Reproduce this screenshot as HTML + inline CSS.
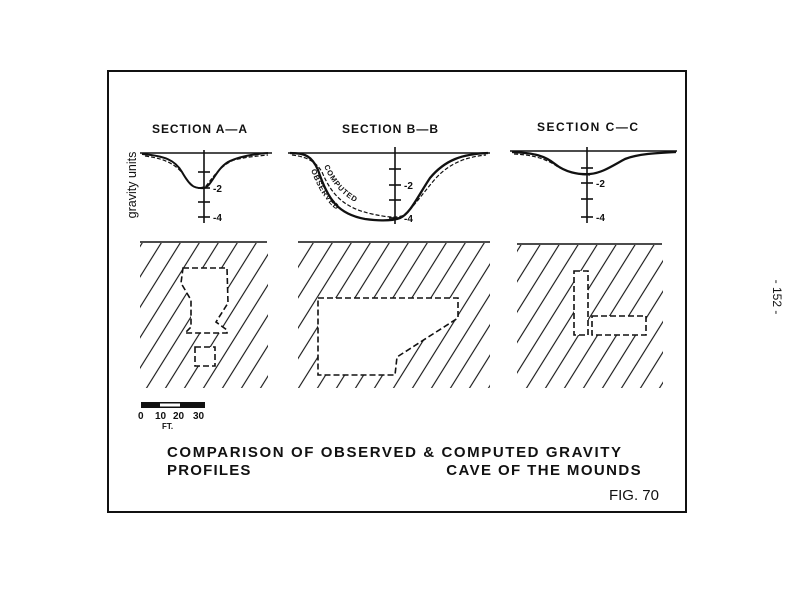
<!DOCTYPE html>
<html><head><meta charset="utf-8"><style>
html,body{margin:0;padding:0;background:#fff;}
svg{display:block;}
text{font-family:"Liberation Sans",sans-serif;font-weight:bold;fill:#111;}
</style></head><body>
<svg width="805" height="600" viewBox="0 0 805 600" xmlns="http://www.w3.org/2000/svg">
<defs>
<pattern id="h" patternUnits="userSpaceOnUse" width="19" height="40" patternTransform="skewX(-32)">
<line x1="9" y1="0" x2="9" y2="40" stroke="#111" stroke-width="1.3"/>
</pattern>
<clipPath id="ca"><rect x="140" y="243" width="128" height="145"/></clipPath>
<clipPath id="cb"><rect x="298" y="243" width="192" height="145"/></clipPath>
<clipPath id="cc"><rect x="517" y="245" width="146" height="143"/></clipPath>
<path id="pc" d="M324,166 C334,190 350,203 380,213"/>
<path id="po" d="M311,170 C321,198 335,214 362,225"/>
</defs>
<rect x="108" y="71" width="578" height="441" fill="none" stroke="#111" stroke-width="2"/>
<text x="152" y="133" font-size="12" textLength="96" letter-spacing="1">SECTION A—A</text>
<text x="342" y="133" font-size="12" textLength="97" letter-spacing="1">SECTION B—B</text>
<text x="537" y="131" font-size="12" textLength="102" letter-spacing="1">SECTION C—C</text>
<text transform="translate(136,185) rotate(-90)" text-anchor="middle" font-size="12.5" style="font-weight:normal">gravity units</text>
<text transform="translate(773,297) rotate(90)" text-anchor="middle" font-size="12" style="font-weight:normal">- 152 -</text>
<g stroke="#111" fill="none" stroke-width="1.6">
<line x1="140" y1="153" x2="272" y2="153"/>
<line x1="204" y1="150" x2="204" y2="223"/>
<line x1="198" y1="172" x2="210" y2="172"/><line x1="198" y1="188" x2="210" y2="188"/>
<line x1="198" y1="202" x2="210" y2="202"/><line x1="198" y1="217" x2="210" y2="217"/>
<path d="M142,154 C165,156 175,160 182,172 C190,186 194,189 204,188 C212,186 215,170 228,162 C240,156 255,154 268,153" stroke-width="2"/>
<path d="M145,156 C168,159 178,166 186,178 C192,187 198,190 206,186 C214,176 220,166 234,160 C246,157 258,156 268,155" stroke-dasharray="4,2" stroke-width="1.2"/>
<line x1="288" y1="153" x2="490" y2="153"/>
<line x1="395" y1="147" x2="395" y2="224"/>
<line x1="389" y1="169" x2="401" y2="169"/><line x1="389" y1="185" x2="401" y2="185"/>
<line x1="389" y1="200" x2="401" y2="200"/><line x1="389" y1="218" x2="401" y2="218"/>
<path d="M290,153 C305,153 312,156 318,170 C328,200 338,214 365,219 C380,221 392,221 400,218 C410,214 418,196 430,178 C445,160 462,154 488,153" stroke-width="2.3"/>
<path d="M292,155 C308,157 316,162 322,172 C332,196 345,208 372,214 C386,217 394,218 402,216 C412,210 422,194 436,178 C450,163 466,157 486,155" stroke-dasharray="4,2" stroke-width="1.2"/>
<line x1="510" y1="151" x2="677" y2="151"/>
<line x1="587" y1="147" x2="587" y2="223"/>
<line x1="581" y1="168" x2="593" y2="168"/><line x1="581" y1="183" x2="593" y2="183"/>
<line x1="581" y1="199" x2="593" y2="199"/><line x1="581" y1="217" x2="593" y2="217"/>
<path d="M512,152 C535,153 545,156 555,164 C565,172 578,175 590,174 C602,173 612,166 625,159 C638,154 655,153 676,152" stroke-width="2.3"/>
<path d="M514,154 C536,155 548,160 558,167 C570,173 580,175 590,175" stroke-dasharray="4,2" stroke-width="1.2"/>
<line x1="140" y1="242" x2="267" y2="242"/>
<line x1="298" y1="242" x2="490" y2="242"/>
<line x1="517" y1="244" x2="662" y2="244"/>
</g>
<text font-size="7.5" letter-spacing="0.8"><textPath href="#pc">COMPUTED</textPath></text>
<text font-size="7.5" letter-spacing="0.8"><textPath href="#po">OBSERVED</textPath></text>
<g font-size="10">
<text x="213" y="192">-2</text><text x="213" y="221">-4</text>
<text x="404" y="189">-2</text><text x="404" y="222">-4</text>
<text x="596" y="187">-2</text><text x="596" y="221">-4</text>
</g>
<rect x="140" y="243" width="128" height="145" fill="url(#h)" clip-path="url(#ca)"/>
<rect x="298" y="243" width="192" height="145" fill="url(#h)" clip-path="url(#cb)"/>
<rect x="517" y="245" width="146" height="143" fill="url(#h)" clip-path="url(#cc)"/>
<g fill="#fff" stroke="#111" stroke-width="1.6" stroke-dasharray="6,3">
<path d="M183,268 L227,268 L228,303 L216,322 L227,330 L227,333 L185,333 L191,327 L191,300 L181,283 Z"/>
<rect x="195" y="347" width="20" height="19"/>
<path d="M318,298 L458,298 L458,318 L397,357 L395,375 L318,375 Z"/>
<rect x="574" y="271" width="14" height="64"/>
<rect x="592" y="316" width="54" height="19"/>
</g>
<rect x="141" y="402" width="64" height="6" fill="#111"/>
<rect x="160" y="403.5" width="20" height="3" fill="#fff"/>
<g font-size="10"><text x="138" y="419">0</text><text x="155" y="419">10</text><text x="173" y="419">20</text><text x="193" y="419">30</text><text x="162" y="429" font-size="8">FT.</text></g>
<g font-size="15">
<text x="167" y="457" letter-spacing="1.6">COMPARISON  OF OBSERVED &amp; COMPUTED GRAVITY</text>
<text x="167" y="475" letter-spacing="1.2">PROFILES</text>
<text x="642" y="475" text-anchor="end" letter-spacing="1.4">CAVE OF THE MOUNDS</text>
</g>
<text x="659" y="500" text-anchor="end" font-size="15" style="font-weight:normal">FIG. 70</text>
</svg>
</body></html>
